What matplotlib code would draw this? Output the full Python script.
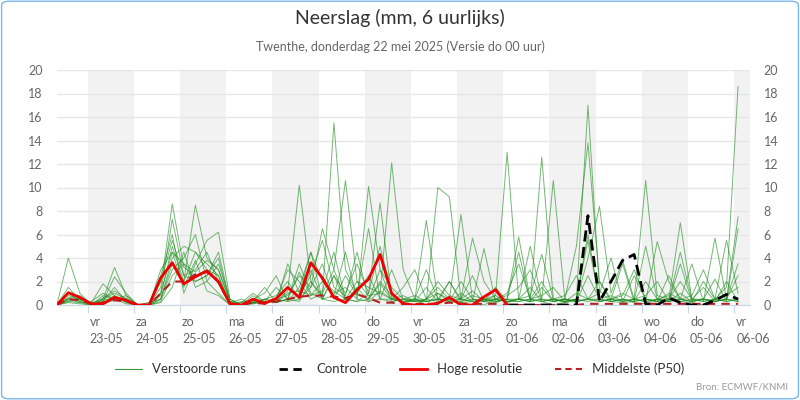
#!/usr/bin/env python3

import numpy as np
import matplotlib.pyplot as plt
import matplotlib.transforms as mtrans
from matplotlib.patches import FancyBboxPatch
from matplotlib.lines import Line2D

plt.rcParams.update({'font.family': 'Lato'})

# time axis: hours since 23-05 00:00, 6-hourly steps
t_start = -16
t_step = 6
n_steps = 60

day_names = ['vr', 'za', 'zo', 'ma', 'di', 'wo', 'do', 'vr', 'za', 'zo', 'ma', 'di', 'wo', 'do', 'vr']
day_dates = ['23-05', '24-05', '25-05', '26-05', '27-05', '28-05', '29-05', '30-05',
             '31-05', '01-06', '02-06', '03-06', '04-06', '05-06', '06-06']

# high resolution run (first 40 steps)
hires = [0, 1.05, 0.65, 0.1, 0.1, 0.65, 0.4, 0, 0, 2.3,
         3.6, 1.8, 2.4, 2.9, 2.0, 0.1, 0, 0.5, 0.15, 0.55,
         1.5, 0.65, 3.6, 2.3, 0.65, 0.2, 1.3, 2.2, 4.3, 1.0,
         0.1, 0, 0, 0.15, 0.65, 0, 0, 0.7, 1.3, 0]

# control run (visible from step 39)
control_start = 39
control = [0, 0, 0, 0, 0, 0, 0, 7.6, 0.3, 2.0, 3.8, 4.3, 0.1, 0, 0.6, 0.2, 0, 0, 0.4, 0.9, 0.5]

# median of ensemble
p50 = [0, 0.5, 0.4, 0.1, 0.2, 0.4, 0.3, 0, 0, 1.0,
       2.0, 2.0, 2.6, 2.8, 2.0, 0.1, 0, 0.2, 0.1, 0.3,
       0.5, 0.7, 0.8, 0.8, 0.7, 0.6, 0.9, 0.6, 0.2, 0.2,
       0.1, 0.1, 0.1, 0.1, 0.2, 0.1, 0.1, 0.1, 0.1, 0,
       0, 0, 0, 0, 0, 0, 0.1, 0.1, 0.1, 0.1,
       0.1, 0.1, 0.1, 0.1, 0.1, 0.1, 0.1, 0.1, 0.1, 0.1]

# perturbed ensemble members
m1 = [0, 0.8, 0.5, 0.1, 0.6, 1.2, 0.5, 0, 0, 1.5,
      8.6, 3.2, 2.5, 3.0, 1.8, 0, 0, 0.2, 0.5, 0.3,
      1.2, 10.2, 2.0, 0.8, 15.5, 3.0, 1.0, 0.5, 2.0, 0.8,
      0.2, 0, 0.5, 1.0, 0.3, 0.2, 0, 0.5, 0.8, 0.2,
      0.5, 1.5, 0.3, 0, 0.2, 0.5, 17.0, 1.2, 0.3, 0.5,
      0.2, 0.1, 0.5, 0.8, 0.3, 0.2, 0, 0.5, 1.5, 18.6]
m2 = [0, 4.0, 1.0, 0, 0.3, 2.4, 1.0, 0, 0, 0.8,
      5.0, 2.0, 8.5, 4.0, 3.0, 0.3, 0, 0.8, 0.2, 0.5,
      0.8, 2.5, 1.5, 6.5, 3.0, 10.6, 2.0, 1.5, 1.0, 12.1,
      3.0, 0.5, 0, 1.0, 0.5, 0.2, 0.3, 0, 0.5, 1.0,
      3.5, 0.5, 2.0, 0.3, 0.5, 5.0, 13.8, 2.0, 0.5, 1.0,
      0.5, 10.6, 0.8, 0.5, 2.0, 0.5, 1.5, 0.3, 0.5, 7.5]
m3 = [0, 1.5, 0.4, 0.2, 1.8, 0.8, 0.3, 0, 0.2, 2.5,
      6.0, 1.0, 3.5, 5.5, 6.2, 0.5, 0, 0.3, 1.5, 0.2,
      3.5, 1.0, 4.5, 2.0, 1.0, 1.5, 0.5, 10.1, 3.0, 1.5,
      0.5, 0.8, 0.3, 10.0, 9.2, 0.5, 1.2, 0.3, 0.8, 13.0,
      0.5, 0.3, 12.6, 0.5, 0.2, 0.4, 4.0, 8.4, 1.0, 3.8,
      0.5, 0.3, 5.4, 2.0, 0.5, 0.8, 3.0, 0.5, 5.5, 1.0]
m4 = [0, 0.6, 0.3, 0, 0.5, 3.2, 0.8, 0, 0, 1.0,
      7.3, 2.5, 2.0, 2.5, 4.0, 0.2, 0.5, 0.1, 0.3, 0.2,
      0.5, 2.8, 0.8, 1.2, 4.5, 0.5, 0.3, 1.0, 8.7, 0.6,
      0.2, 0.4, 7.2, 0.5, 0.5, 7.7, 0.5, 0.3, 0.2, 0.5,
      4.5, 0.3, 0.5, 10.6, 0.5, 0.3, 0.5, 0.5, 0.8, 0.3,
      2.5, 0.5, 0.3, 0.5, 7.0, 0.5, 0.3, 5.7, 0.5, 3.5]
m5 = [0, 0.3, 0.2, 0.3, 1.0, 0.5, 0.8, 0, 0, 0.5,
      4.0, 5.0, 4.5, 3.0, 2.5, 0.1, 0.2, 1.0, 0.3, 1.5,
      0.5, 0.8, 2.5, 5.5, 1.5, 0.8, 4.5, 0.5, 1.8, 0.5,
      1.5, 3.0, 0.5, 2.0, 0.8, 0.5, 5.7, 2.0, 0.5, 0.8,
      1.5, 3.0, 0.3, 0.5, 0.8, 2.5, 0.5, 1.0, 4.0, 0.3,
      0.5, 0.8, 2.0, 0.3, 4.5, 0.5, 0.5, 2.2, 0.3, 6.5]
m6 = [0, 0.5, 0.5, 0.1, 0.2, 0.8, 0.2, 0, 0.2, 0.5,
      3.0, 4.0, 6.0, 2.0, 3.5, 0.5, 0, 0.5, 1.0, 2.5,
      0.3, 1.5, 4.5, 0.5, 2.5, 1.0, 3.5, 1.0, 5.0, 1.0,
      0.3, 0.3, 1.5, 0.3, 2.0, 0.5, 0.3, 4.8, 0.3, 0.5,
      5.8, 0.5, 0.8, 1.5, 0.3, 0.5, 6.0, 0.3, 0.5, 0.8,
      3.0, 0.5, 0.3, 1.0, 0.5, 3.5, 0.3, 0.5, 0.8, 1.5]
m7 = [0, 1.0, 0.3, 0, 0.3, 1.5, 0.3, 0, 0, 2.0,
      5.5, 2.5, 3.0, 4.5, 2.0, 0, 0.3, 0.2, 0.5, 0.8,
      2.0, 0.5, 1.5, 3.5, 0.5, 2.5, 0.8, 6.5, 0.5, 3.0,
      0.5, 0.5, 3.0, 0.5, 0.3, 2.0, 0.5, 0.3, 1.5, 0.3,
      0.5, 0.8, 4.3, 0.5, 0.3, 1.0, 0.5, 2.0, 0.3, 0.5,
      0.3, 5.0, 0.5, 0.3, 1.0, 0.3, 2.0, 0.5, 0.3, 0.5]
m8 = [0, 0.4, 0.6, 0.2, 0.4, 0.6, 0.4, 0, 0, 0.3,
      2.5, 3.5, 2.8, 3.8, 3.0, 0.3, 0, 0.3, 0.2, 0.5,
      3.0, 2.0, 0.5, 1.0, 3.0, 0.5, 2.0, 0.8, 1.0, 0.5,
      0.8, 0.3, 0.5, 1.5, 0.5, 0.3, 0.8, 0.5, 0.5, 0.3,
      0.5, 5.0, 0.5, 0.3, 0.5, 0.3, 2.5, 0.5, 0.3, 0.5,
      0.3, 0.5, 0.3, 2.5, 0.5, 0.3, 0.5, 0.3, 2.0, 0.3]
m9 = [0, 0.2, 0.1, 0, 0.1, 0.5, 0.1, 0, 0, 0.2,
      1.5, 4.5, 1.5, 2.0, 1.0, 0, 0, 0.1, 0.5, 0.2,
      0.5, 0.3, 2.0, 0.5, 0.8, 4.5, 0.5, 0.3, 0.5, 0.5,
      0.3, 0.5, 0.3, 0.5, 2.0, 0.3, 0.5, 0.3, 0.5, 0.3,
      0.3, 0.5, 0.3, 0.5, 0.3, 0.5, 0.3, 0.5, 0.3, 0.2,
      0.3, 2.0, 0.5, 0.3, 0.5, 0.3, 0.5, 0.3, 0.5, 0.3]
m10 = [0, 0.6, 0.8, 0, 0.2, 0.4, 0.6, 0, 0, 3.0,
       4.5, 1.5, 3.8, 1.2, 0.8, 0, 0.2, 0.4, 0.3, 0.2,
       1.0, 1.2, 0.8, 2.0, 1.2, 0.5, 1.0, 2.5, 0.5, 0.3,
       0.5, 0.3, 0.3, 0.5, 0.3, 1.0, 0.3, 0.5, 0.3, 0.5,
       0.5, 0.3, 0.5, 0.3, 0.5, 0.3, 0.5, 0.3, 0.5, 3.5,
       0.3, 0.5, 0.3, 0.5, 0.3, 0.5, 0.3, 0.5, 0.3, 0.5]
m11 = [0, 0.5, 0.2, 0, 0.5, 1.0, 0.5, 0, 0, 0.5,
       3.5, 2.0, 4.5, 3.5, 2.5, 0, 0, 0.2, 0.3, 0.3,
       0.5, 3.5, 1.0, 0.5, 0.3, 0.5, 0.3, 0.5, 3.0, 0.3,
       0.5, 0.3, 0.5, 0.3, 0.5, 0.5, 0.3, 0.5, 0.3, 0.5,
       0.3, 0.5, 0.3, 0.5, 0.3, 0.5, 5.5, 0.3, 0.5, 0.3,
       0.5, 0.3, 0.5, 0.3, 3.5, 0.3, 0.5, 0.3, 0.5, 0.3]
m12 = [0, 0.3, 0.5, 0, 0.8, 0.5, 0.3, 0, 0, 1.0,
       4.5, 3.5, 2.0, 2.5, 4.5, 0.3, 0, 0.2, 0.1, 0.5,
       0.3, 0.5, 3.0, 0.5, 2.5, 0.3, 1.5, 0.3, 1.2, 0.5,
       0.3, 0.5, 0.3, 0.5, 0.3, 0.5, 2.5, 0.3, 0.5, 0.3,
       0.5, 0.3, 1.5, 0.3, 0.5, 0.3, 0.5, 0.3, 0.5, 0.3,
       0.5, 0.3, 0.5, 0.3, 0.5, 0.3, 0.5, 0.3, 0.5, 2.5]
members = [m1, m2, m3, m4, m5, m6, m7, m8, m9, m10, m11, m12]

t = t_start + t_step * np.arange(n_steps)
t_end = 14 * 24 + 8

fig = plt.figure(figsize=(8, 4), dpi=100)
border = FancyBboxPatch((0.002, 0.003), 0.996, 0.994, boxstyle='round,pad=0,rounding_size=0.01',
                        transform=fig.transFigure, fc='white', ec='#7cb5ec', lw=1, zorder=-10)
fig.patches.append(border)
ax = fig.add_axes([0.071, 0.2375, 0.866, 0.5875])
ax.set_facecolor('none')

# alternating day shading
for k in range(0, 15, 2):
    ax.axvspan(k * 24, min((k + 1) * 24, t_end), color='#f2f2f2', zorder=0, lw=0)

for m in members:
    ax.plot(t, m, color='#1a8a1a', lw=0.7, alpha=0.6, zorder=2)
ax.plot(t, p50, color='#b22222', lw=1.5, ls=(0, (4, 3)), zorder=3)
ax.plot(t[control_start:control_start + len(control)], control, color='black', lw=2, ls=(0, (4, 2)), zorder=4)
ax.plot(t[:len(hires)], hires, color='#ee0000', lw=2, zorder=5)

ax.set_xlim(t_start, t_end)
ax.set_ylim(0, 20)
ax.set_yticks(range(0, 21, 2))
ax.grid(axis='y', color='#e6e6e6', lw=1)
ax.set_axisbelow(True)
ax.tick_params(axis='y', which='both', length=0, labelsize=9, labelcolor='#666666', labelright=True)
ax.tick_params(axis='y', pad=10)
ax.set_xticks([k * 24 for k in range(15)])
ax.set_xticklabels([f'{d}\n{s}' for d, s in zip(day_names, day_dates)], ha='left', linespacing=1.5)
ax.tick_params(axis='x', length=6, color='#ccd6eb', labelsize=9, labelcolor='#666666', pad=2)
offset = mtrans.ScaledTranslation(2 / 100, 0, fig.dpi_scale_trans)
for lab in ax.get_xticklabels():
    lab.set_transform(lab.get_transform() + offset)
for s in ['top', 'left', 'right']:
    ax.spines[s].set_visible(False)
ax.spines['bottom'].set_color('#ccd6eb')

fig.text(0.5, 0.955, 'Neerslag (mm, 6 uurlijks)', ha='center', va='center', fontsize=14, color='#333333')
fig.text(0.5, 0.882, 'Twenthe, donderdag 22 mei 2025 (Versie do 00 uur)', ha='center', va='center',
         fontsize=9, color='#666666')
fig.text(0.985, 0.02, 'Bron: ECMWF/KNMI', ha='right', va='bottom', fontsize=7, color='#999999')

handles = [Line2D([], [], color='#3a9a3a', lw=0.8),
           Line2D([], [], color='black', lw=2, ls=(0, (3, 2))),
           Line2D([], [], color='#ee0000', lw=2),
           Line2D([], [], color='#b22222', lw=1.5, ls=(0, (3, 2)))]
fig.legend(handles, ['Verstoorde runs', 'Controle', 'Hoge resolutie', 'Middelste (P50)'],
           loc='center', bbox_to_anchor=(0.5, 0.077), ncol=4, frameon=False, fontsize=9.5,
           handlelength=2, columnspacing=2.5, labelcolor='#333333')

plt.savefig('out.png', dpi=100)
plt.close()
